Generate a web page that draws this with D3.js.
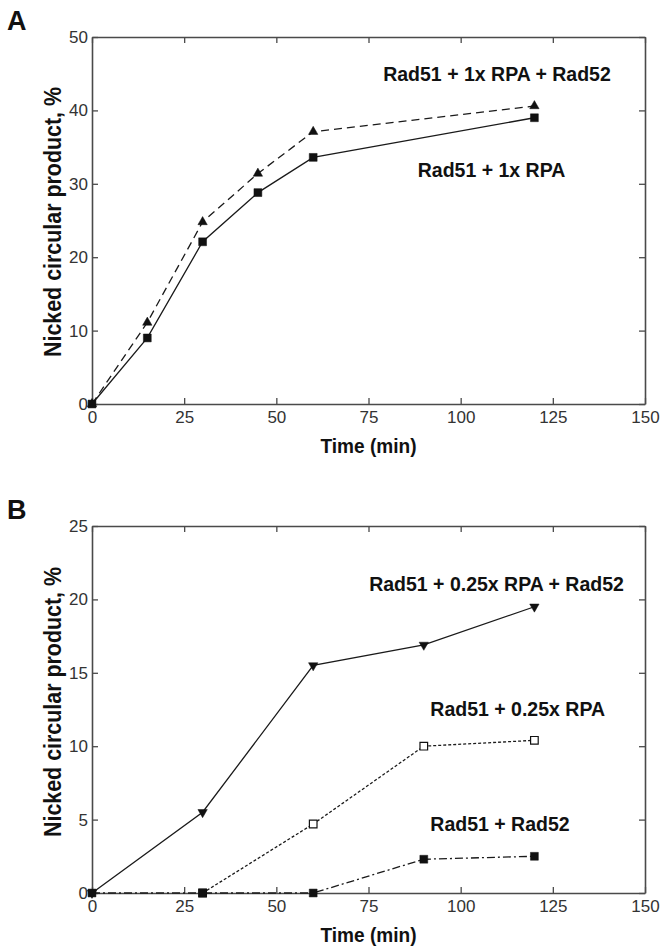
<!DOCTYPE html>
<html>
<head>
<meta charset="utf-8">
<script src="https://cdn.jsdelivr.net/npm/d3@7"></script>
<style>
  html, body { margin: 0; padding: 0; background: #fff; }
  svg { display: block; }
  text { font-family: "Liberation Sans", Arial, Helvetica, sans-serif; }
</style>
</head>
<body>
<svg id="chart" width="661" height="946"></svg>
<script>
// ---- data ----
const xTicks = [0, 25, 50, 75, 100, 125, 150];
const yTicksA = [0, 10, 20, 30, 40, 50];
const yTicksB = [0, 5, 10, 15, 20, 25];

const timesA = [0, 15, 30, 45, 60, 120];
const rad51Rpa1 = [0, 9, 22.1, 28.8, 33.6, 39.0];
const rad51Rpa1Rad52 = [0, 11.1, 24.8, 31.4, 37.1, 40.6];

const timesB = [0, 30, 60, 90, 120];
const rad51Rpa025Rad52 = [0, 5.5, 15.5, 16.9, 19.5];
const timesRpa025 = [30, 60, 90, 120];
const rad51Rpa025 = [0, 4.7, 10.0, 10.4];
const rad51Rad52 = [0, 0, 0, 2.3, 2.5];

const labelsA = ["Rad51 + 1x RPA + Rad52", "Rad51 + 1x RPA"];
const labelsB = ["Rad51 + 0.25x RPA + Rad52", "Rad51 + 0.25x RPA", "Rad51 + Rad52"];

// ---- drawing ----
const svg = d3.select("#chart");
const x = d3.scaleLinear().domain([0, 150]).range([92, 645]);

function panel(cfg) {
  const y = d3.scaleLinear().domain(cfg.yDomain).range(cfg.yRange);
  const g = svg.append("g");
  const axisColor = "#4a4a4a";

  const bottom = g.append("g").attr("transform", `translate(0,${y(cfg.yDomain[0])})`)
    .call(d3.axisBottom(x).tickValues(xTicks).tickSizeInner(-6).tickSizeOuter(0).tickPadding(7));
  const top = g.append("g").attr("transform", `translate(0,${y(cfg.yDomain[1])})`)
    .call(d3.axisTop(x).tickValues(xTicks).tickSizeInner(-6).tickSizeOuter(0).tickFormat(""));
  const left = g.append("g").attr("transform", `translate(${x(0)},0)`)
    .call(d3.axisLeft(y).tickValues(cfg.yTicks).tickSizeInner(-6).tickSizeOuter(0).tickPadding(4));
  const right = g.append("g").attr("transform", `translate(${x(150)},0)`)
    .call(d3.axisRight(y).tickValues(cfg.yTicks).tickSizeInner(-6).tickSizeOuter(0).tickFormat(""));

  [bottom, top, left, right].forEach(a => {
    a.select(".domain").attr("stroke", axisColor).attr("stroke-width", 1.6);
    a.selectAll(".tick line").attr("stroke", axisColor).attr("stroke-width", 1.3);
    a.selectAll(".tick text").attr("fill", "#333").style("font-size", "17px")
      .style("font-family", "'Liberation Sans', Arial, sans-serif");
  });

  // series
  cfg.series.forEach(s => {
    const pts = s.t.map((t, i) => [t, s.v[i]]);
    g.append("path")
      .attr("d", d3.line().x(d => x(d[0])).y(d => y(d[1]))(pts))
      .attr("fill", "none").attr("stroke", "#1a1a1a").attr("stroke-width", 1.3)
      .attr("stroke-dasharray", s.dash || null);
  });
  cfg.series.forEach(s => {
    const pts = s.t.map((t, i) => [t, s.v[i]]);
    const sym = d3.symbol().type(s.symbol).size(s.size);
    g.selectAll(null).data(pts).enter().append("path")
      .attr("d", sym)
      .attr("transform", d => `translate(${x(d[0])},${y(d[1])})` + (s.rotate ? ` rotate(${s.rotate})` : ""))
      .attr("fill", s.open ? "#fff" : "#111")
      .attr("stroke", "#111").attr("stroke-width", s.open ? 1.2 : 0.5);
  });

  // annotations
  cfg.labels.forEach(l => {
    g.append("text").attr("x", l.x).attr("y", l.y).attr("text-anchor", "middle")
      .style("font-size", "19.5px").style("font-weight", "bold").attr("fill", "#111")
      .text(l.text);
  });

  // axis titles
  g.append("text").attr("x", (x(0) + x(150)) / 2).attr("y", cfg.xTitleY)
    .attr("text-anchor", "middle").style("font-size", "20.5px").style("font-weight", "bold")
    .attr("fill", "#111").attr("textLength", 96).attr("lengthAdjust", "spacingAndGlyphs")
    .text("Time (min)");
  g.append("text").attr("transform", `translate(61,${cfg.yTitleY}) rotate(-90)`)
    .attr("text-anchor", "middle").style("font-size", "23px").style("font-weight", "bold")
    .attr("fill", "#111").attr("textLength", 270).attr("lengthAdjust", "spacingAndGlyphs")
    .text("Nicked circular product, %");

  // panel letter
  svg.append("text").attr("x", 7).attr("y", cfg.letterY)
    .style("font-size", "27px").style("font-weight", "bold").attr("fill", "#111")
    .text(cfg.letter);
}

panel({
  letter: "A", letterY: 30,
  yDomain: [0, 50], yRange: [404, 37], yTicks: yTicksA,
  xTitleY: 453, yTitleY: 222,
  series: [
    { t: timesA, v: rad51Rpa1Rad52, dash: "8,5", symbol: d3.symbolTriangle, size: 38 },
    { t: timesA, v: rad51Rpa1, symbol: d3.symbolSquare, size: 62 }
  ],
  labels: [
    { text: labelsA[0], x: 497, y: 81 },
    { text: labelsA[1], x: 491.5, y: 177 }
  ]
});

panel({
  letter: "B", letterY: 519,
  yDomain: [0, 25], yRange: [893, 526], yTicks: yTicksB,
  xTitleY: 942, yTitleY: 702,
  series: [
    { t: timesB, v: rad51Rpa025Rad52, symbol: d3.symbolTriangle, size: 38, rotate: 180 },
    { t: timesRpa025, v: rad51Rpa025, dash: "3,2", symbol: d3.symbolSquare, size: 58, open: true },
    { t: timesB, v: rad51Rad52, dash: "8,3,2,3", symbol: d3.symbolSquare, size: 62 }
  ],
  labels: [
    { text: labelsB[0], x: 496.5, y: 591 },
    { text: labelsB[1], x: 517.7, y: 716 },
    { text: labelsB[2], x: 500, y: 831 }
  ]
});
</script>
</body>
</html>
